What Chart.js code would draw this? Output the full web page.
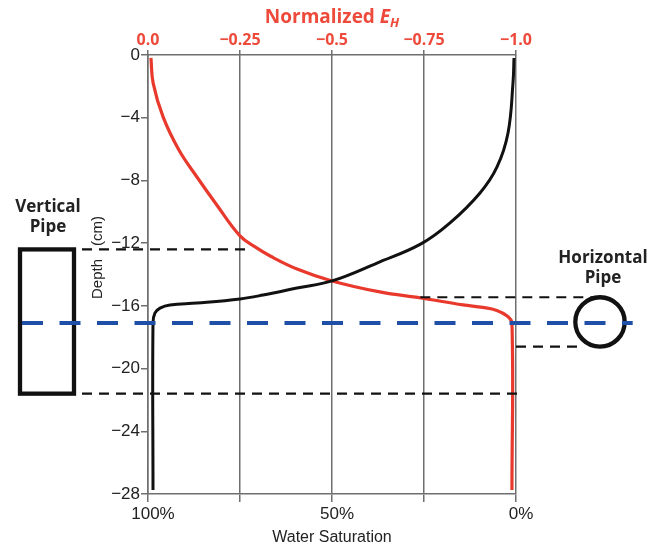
<!DOCTYPE html>
<html>
<head>
<meta charset="utf-8">
<script src="https://cdn.jsdelivr.net/npm/chart.js@4/dist/chart.umd.min.js"></script>
<style>
  html, body { margin: 0; padding: 0; background: #fff; }
  canvas { display: block; }
</style>
</head>
<body>
<canvas id="chart" width="665" height="547"></canvas>
<script>
// Water saturation profile: depth (cm) and saturation (%)
const saturationDepth = [-0.19, -1.79, -4.97, -7.14, -8.80, -10.71, -12.05, -13.27, -14.41, -14.86, -15.31, -15.56, -15.82, -15.94, -16.14, -16.45, -17.09, -27.74];
const saturationValue = [0.54, 0.82, 2.17, 5.16, 9.78, 17.93, 25.82, 37.77, 50.0, 59.51, 68.75, 75.0, 86.68, 94.02, 96.74, 98.1, 98.64, 98.64];

// Normalized horizontal electric field E_H versus depth (cm)
const ehDepth = [-0.19, -1.79, -3.95, -6.06, -7.78, -9.50, -11.54, -12.24, -12.82, -13.65, -14.41, -15.11, -15.50, -15.94, -16.10, -16.29, -16.65, -17.09, -27.74];
const ehValue = [-0.008, -0.014, -0.041, -0.084, -0.133, -0.185, -0.25, -0.291, -0.332, -0.405, -0.5, -0.63, -0.742, -0.856, -0.910, -0.948, -0.976, -0.989, -0.989];

// Axis ticks and labels
const depthTicks = [0, -4, -8, -12, -16, -20, -24, -28];
const depthLabels = ['0', '\u22124', '\u22128', '\u221212', '\u221216', '\u221220', '\u221224', '\u221228'];
const saturationTicks = [100, 75, 50, 25, 0];
const saturationLabels = ['100%', '', '50%', '', '0%'];
const ehTicks = [0, -0.25, -0.5, -0.75, -1];
const ehLabels = ['0.0', '\u22120.25', '\u22120.5', '\u22120.75', '\u22121.0'];

// Pipe geometry and water level (depth, cm)
const waterLevel = -17.1;
const verticalPipe = { top: -12.4, bottom: -21.6 };
const horizontalPipe = { top: -15.45, bottom: -18.6 };

const RED = '#ee4a3b';
const AXIS = '#6f6f6f';
const TEXT = '#222';

function labelFor(ticks, labels) {
  return (v) => {
    const i = ticks.findIndex(t => Math.abs(t - v) < 1e-9);
    return i < 0 ? '' : labels[i];
  };
}

const schematic = {
  id: 'schematic',
  afterDatasetsDraw(chart) {
    const { ctx, chartArea: a, scales } = chart;
    const y = v => scales.y.getPixelForValue(v);
    const x2 = v => scales.x2.getPixelForValue(v);
    const sx = v => scales.x.getPixelForValue(v);
    ctx.save();

    // pipe outlines
    const rectL = a.left - 128, rectR = a.left - 74;
    const vpTop = y(verticalPipe.top), vpBot = y(verticalPipe.bottom);
    ctx.strokeStyle = '#111';
    ctx.lineWidth = 4.3;
    ctx.strokeRect(rectL, vpTop, rectR - rectL, vpBot - vpTop);

    const hpTop = y(horizontalPipe.top), hpBot = y(horizontalPipe.bottom);
    const cx = a.right + 84, cy = (hpTop + hpBot) / 2, r = (hpBot - hpTop) / 2;
    ctx.beginPath();
    ctx.arc(cx, cy, r, 0, Math.PI * 2);
    ctx.stroke();

    // black dashed depth markers
    ctx.lineWidth = 2.2;
    ctx.setLineDash([10, 7]);
    const seg = (x0, x1, yy) => { ctx.beginPath(); ctx.moveTo(x0, yy); ctx.lineTo(x1, yy); ctx.stroke(); };
    seg(rectR + 8, x2(-0.272), vpTop);
    seg(rectR + 8, sx(-1), vpBot);
    seg(x2(-0.74), cx, hpTop);
    seg(sx(0), cx - 17, hpBot);

    // water level
    ctx.strokeStyle = '#1f4fa6';
    ctx.lineWidth = 4;
    ctx.setLineDash([21, 16.5]);
    seg(rectL + 2, cx + r + 8, y(waterLevel));
    ctx.setLineDash([]);

    // pipe captions
    ctx.fillStyle = TEXT;
    ctx.font = 'bold 17px "Open Sans"';
    ctx.textAlign = 'center';
    ctx.textBaseline = 'alphabetic';
    const vcx = (rectL + rectR) / 2 + 1;
    ctx.fillText('Vertical', vcx, 212);
    ctx.fillText('Pipe', vcx, 232);
    ctx.fillText('Horizontal', cx + 3, 263);
    ctx.fillText('Pipe', cx + 3, 283);

    // depth axis caption
    ctx.save();
    ctx.translate(a.left - 50, 0);
    ctx.rotate(-Math.PI / 2);
    ctx.font = '15px "Liberation Sans"';
    ctx.textBaseline = 'middle';
    ctx.fillText('Depth', -279, 0);
    ctx.fillText('(cm)', -231, 0);
    ctx.restore();

    // top axis caption: Normalized E_H
    ctx.fillStyle = RED;
    ctx.textAlign = 'left';
    const f1 = 'bold 19px "Open Sans"', f2 = 'italic bold 19px "Open Sans"', f3 = 'italic bold 13px "Open Sans"';
    ctx.font = f1; const w1 = ctx.measureText('Normalized ').width;
    ctx.font = f2; const w2 = ctx.measureText('E').width;
    ctx.font = f3; const w3 = ctx.measureText('H').width;
    let tx = (a.left + a.right) / 2 - (w1 + w2 + w3) / 2;
    const base = 23;
    ctx.font = f1; ctx.fillText('Normalized ', tx, base); tx += w1;
    ctx.font = f2; ctx.fillText('E', tx, base); tx += w2;
    ctx.font = f3; ctx.fillText('H', tx, base + 4);

    ctx.restore();
  }
};

new Chart(document.getElementById('chart'), {
  type: 'scatter',
  data: {
    datasets: [
      {
        label: 'Water Saturation',
        data: saturationDepth.map((d, i) => ({ x: saturationValue[i], y: d })),
        xAxisID: 'x', yAxisID: 'y',
        showLine: true, borderColor: '#111', borderWidth: 3,
        pointRadius: 0, tension: 0.4, fill: false
      },
      {
        label: 'Normalized EH',
        data: ehDepth.map((d, i) => ({ x: ehValue[i], y: d })),
        xAxisID: 'x2', yAxisID: 'y',
        showLine: true, borderColor: '#e8392c', borderWidth: 3.2,
        pointRadius: 0, tension: 0.4, fill: false
      }
    ]
  },
  options: {
    responsive: false,
    animation: false,
    devicePixelRatio: 1,
    layout: { padding: { left: 108, right: 149, top: 0, bottom: 0 } },
    plugins: { legend: { display: false }, tooltip: { enabled: false } },
    scales: {
      x: {
        type: 'linear', position: 'bottom', min: 0, max: 100, reverse: true,
        afterBuildTicks: s => { s.ticks = saturationTicks.map(v => ({ value: v })); },
        afterFit: s => { s.height = 53; },
        ticks: {
          callback: labelFor(saturationTicks, saturationLabels),
          font: { family: 'Liberation Sans', size: 17 }, color: TEXT,
          padding: 2, maxRotation: 0, autoSkip: false, labelOffset: 5
        },
        grid: { color: AXIS, lineWidth: 1.5, tickLength: 8, drawOnChartArea: true },
        border: { color: AXIS, width: 1.5 },
        title: {
          display: true, text: 'Water Saturation',
          font: { family: 'Liberation Sans', size: 16 }, color: TEXT,
          padding: { top: 0, bottom: 0 }
        }
      },
      x2: {
        type: 'linear', position: 'top', min: -1, max: 0, reverse: true,
        afterBuildTicks: s => { s.ticks = ehTicks.map(v => ({ value: v })); },
        afterFit: s => { s.height = 55; },
        ticks: {
          callback: labelFor(ehTicks, ehLabels),
          font: { family: 'Open Sans', size: 16, weight: 'bold' }, color: RED,
          padding: 0, maxRotation: 0, autoSkip: false
        },
        grid: { color: AXIS, lineWidth: 1.5, tickLength: 5, drawOnChartArea: false },
        border: { color: AXIS, width: 1.5 }
      },
      y: {
        type: 'linear', position: 'left', min: -28, max: 0,
        afterBuildTicks: s => { s.ticks = depthTicks.map(v => ({ value: v })); },
        afterFit: s => { s.width = 40; },
        ticks: {
          callback: labelFor(depthTicks, depthLabels),
          font: { family: 'Liberation Sans', size: 17 }, color: TEXT,
          padding: 1, autoSkip: false
        },
        grid: { color: AXIS, lineWidth: 1.5, tickLength: 7, drawOnChartArea: false },
        border: { color: AXIS, width: 1.5 }
      }
    }
  },
  plugins: [schematic]
});
</script>
</body>
</html>
